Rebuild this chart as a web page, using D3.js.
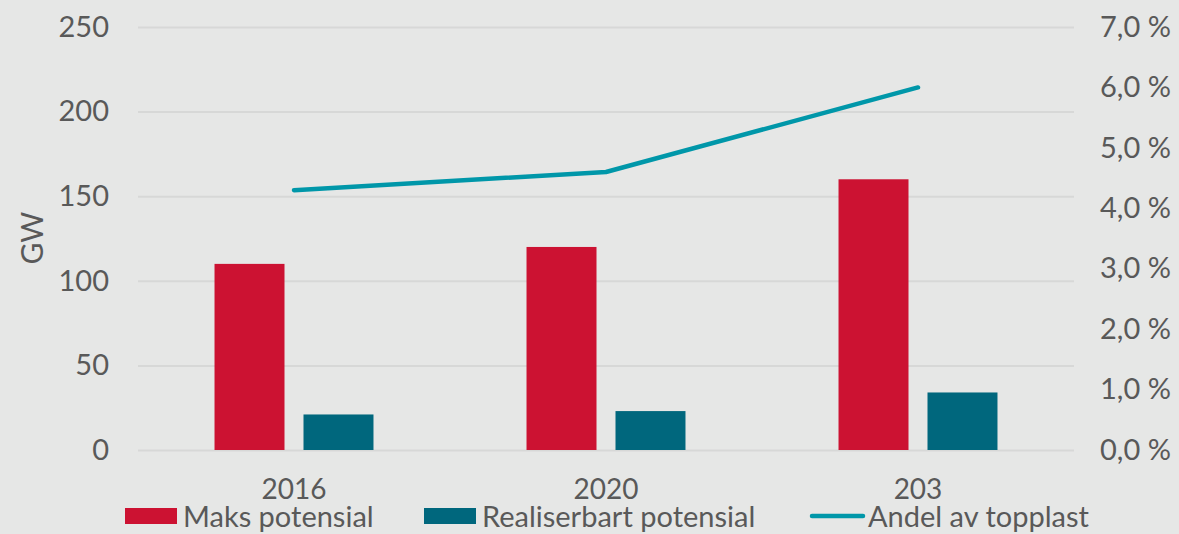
<!DOCTYPE html>
<html>
<head>
<meta charset="utf-8">
<script src="https://cdn.jsdelivr.net/npm/d3@7"></script>
<style>
  html, body { margin: 0; padding: 0; background: #e6e7e6; }
  svg { display: block; }
  text { font-family: Lato, "Open Sans", sans-serif; fill: #595959; }
</style>
</head>
<body>
<svg id="chart" width="1179" height="534"></svg>
<script>
// Categories (years) and series
const categories = ["2016", "2020", "203"];
const seriesNames = ["Maks potensial", "Realiserbart potensial"];
const maksPotensial = [110, 120, 160];        // GW
const realiserbartPotensial = [21, 23, 34];   // GW
const andelAvTopplast = [4.3, 4.6, 6.0];      // %
const leftTicks = [0, 50, 100, 150, 200, 250];
const rightTicks = [0, 1, 2, 3, 4, 5, 6, 7];
const lineName = "Andel av topplast";

const colors = {
  "Maks potensial": "#cc1232",
  "Realiserbart potensial": "#00677d",
  line: "#0097a9",
  grid: "#d7d8d7",
  text: "#595959"
};

const svg = d3.select("#chart");
const plot = { left: 138, right: 1074, top: 27, bottom: 450 };

const x = d3.scaleBand().domain(categories).range([plot.left, plot.right]);
const xInner = d3.scaleBand().domain(seriesNames)
  .range([0, x.bandwidth()]).paddingInner(0.2135).paddingOuter(0.86);
const yL = d3.scaleLinear().domain([0, 250]).range([plot.bottom, plot.top]);
const yR = d3.scaleLinear().domain([0, 7]).range([plot.bottom, plot.top]);

// Gridlines from the left axis
svg.append("g")
  .attr("transform", `translate(${plot.left},0)`)
  .call(d3.axisLeft(yL).tickValues(leftTicks).tickSize(-(plot.right - plot.left)).tickFormat(""))
  .call(g => g.select(".domain").remove())
  .call(g => g.selectAll("line").attr("stroke", colors.grid).attr("stroke-width", 2));

// Left axis labels
svg.append("g")
  .attr("transform", `translate(${plot.left},0)`)
  .call(d3.axisLeft(yL).tickValues(leftTicks).tickSize(0).tickPadding(29))
  .call(g => g.select(".domain").remove())
  .call(g => g.selectAll("text").attr("font-size", 29).style("font-family", "Lato").attr("fill", colors.text));

// Right axis labels
const fmtPct = d => d.toFixed(1).replace(".", ",") + " %";
svg.append("g")
  .attr("transform", `translate(${plot.right},0)`)
  .call(d3.axisRight(yR).tickValues(rightTicks).tickSize(0).tickPadding(26).tickFormat(fmtPct))
  .call(g => g.select(".domain").remove())
  .call(g => g.selectAll("text").attr("font-size", 29).style("font-family", "Lato").attr("fill", colors.text));

// Left axis title
svg.append("text")
  .attr("transform", `translate(43,238) rotate(-90)`)
  .attr("text-anchor", "middle")
  .attr("font-size", 30)
  .text("GW");

// Bars
const barData = categories.map((c, i) => ({
  cat: c,
  values: [
    { key: seriesNames[0], value: maksPotensial[i] },
    { key: seriesNames[1], value: realiserbartPotensial[i] }
  ]
}));

svg.append("g").selectAll("g")
  .data(barData).join("g")
  .attr("transform", d => `translate(${x(d.cat)},0)`)
  .selectAll("rect")
  .data(d => d.values).join("rect")
  .attr("x", d => xInner(d.key))
  .attr("width", xInner.bandwidth())
  .attr("y", d => yL(d.value))
  .attr("height", d => yL(0) - yL(d.value))
  .attr("fill", d => colors[d.key]);

// Line on the right axis
const line = d3.line()
  .x((d, i) => x(categories[i]) + x.bandwidth() / 2)
  .y(d => yR(d));
svg.append("path")
  .datum(andelAvTopplast)
  .attr("d", line)
  .attr("fill", "none")
  .attr("stroke", colors.line)
  .attr("stroke-width", 4.5)
  .attr("stroke-linecap", "round")
  .attr("stroke-linejoin", "round");

// Category labels
svg.append("g").selectAll("text")
  .data(categories).join("text")
  .attr("x", d => x(d) + x.bandwidth() / 2)
  .attr("y", 499)
  .attr("text-anchor", "middle")
  .attr("font-size", 28)
  .text(d => d);

// Legend
const legend = svg.append("g");
const legendItems = [
  { name: seriesNames[0], type: "rect", x: 125, color: colors[seriesNames[0]] },
  { name: seriesNames[1], type: "rect", x: 424, color: colors[seriesNames[1]] },
  { name: lineName, type: "line", x: 810, color: colors.line }
];
legendItems.forEach(it => {
  if (it.type === "rect") {
    legend.append("rect").attr("x", it.x).attr("y", 508).attr("width", 52).attr("height", 16).attr("fill", it.color);
  } else {
    legend.append("line").attr("x1", it.x + 2).attr("x2", it.x + 53).attr("y1", 516).attr("y2", 516)
      .attr("stroke", it.color).attr("stroke-width", 4.5).attr("stroke-linecap", "round");
  }
  legend.append("text").attr("x", it.x + 58).attr("y", 527).attr("font-size", 29).text(it.name);
});
</script>
</body>
</html>
